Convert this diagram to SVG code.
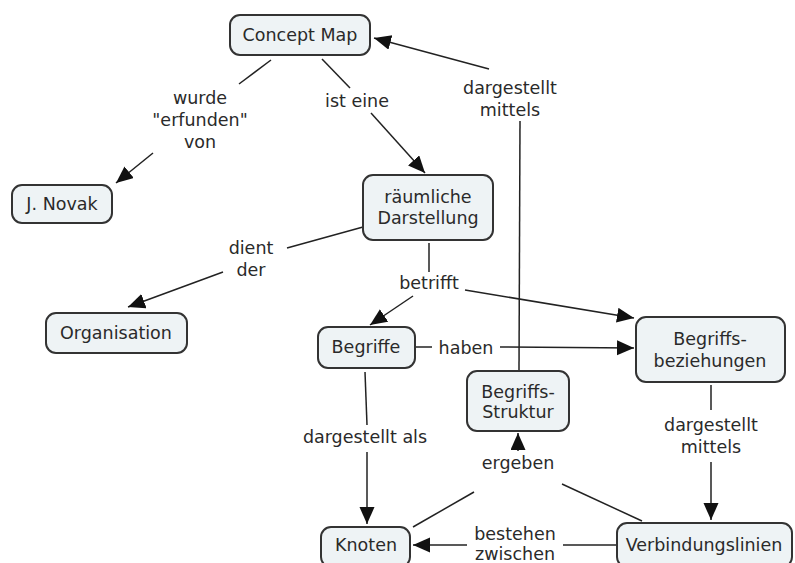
<svg xmlns="http://www.w3.org/2000/svg" width="795" height="563" viewBox="0 0 795 563">
  <defs>
    <marker id="arrow" markerUnits="userSpaceOnUse" markerWidth="20" markerHeight="16" refX="17" refY="7.5" orient="auto">
      <path d="M0,0 L17,7.5 L0,15 Z" fill="#111"/>
    </marker>
    <style>
      .node rect { fill: #eef3f5; stroke: #333; stroke-width: 2; }
      text { font-family: "DejaVu Sans", Verdana, sans-serif; font-size: 17.5px; fill: #2a2a2a; text-anchor: middle; }
      .links path { fill: none; stroke: #222; stroke-width: 1.5; }
      .links path.arr { marker-end: url(#arrow); }
    </style>
  </defs>
  <rect width="795" height="563" fill="#fff"/>

  <!-- connectors and their labels -->
  <g class="links">
    <!-- Concept Map -> J. Novak -->
    <path d="M271,60 L239,84"/>
    <path class="arr" d="M153,153 L116,183"/>
    <text x="200" y="104">wurde</text>
    <text x="200" y="126">"erfunden"</text>
    <text x="200" y="148">von</text>

    <!-- Concept Map -> räumliche Darstellung -->
    <path d="M322,59 L350,88"/>
    <path class="arr" d="M371,113 L425,173"/>
    <text x="357" y="107">ist eine</text>

    <!-- räumliche Darstellung -> Organisation -->
    <path d="M363,227 L287,248"/>
    <path class="arr" d="M223,272 L128,307"/>
    <text x="251" y="254">dient</text>
    <text x="251" y="276">der</text>

    <!-- räumliche Darstellung -> Begriffe / Begriffsbeziehungen -->
    <path d="M429,243 L429,272"/>
    <path class="arr" d="M413,296 L370,325"/>
    <path class="arr" d="M465,290 L634,318"/>
    <text x="429" y="289">betrifft</text>

    <!-- Begriffe -> Begriffsbeziehungen -->
    <path d="M415,347 L432,347"/>
    <path class="arr" d="M500,347 L634,348"/>
    <text x="466" y="354">haben</text>

    <!-- Begriffe -> Knoten -->
    <path d="M365,372 L367,425"/>
    <path class="arr" d="M367,452 L367,524"/>
    <text x="365" y="443">dargestellt als</text>

    <!-- Begriffsbeziehungen -> Verbindungslinien -->
    <path d="M711,385 L711,410"/>
    <path class="arr" d="M711,462 L711,520"/>
    <text x="711" y="431">dargestellt</text>
    <text x="711" y="453">mittels</text>

    <!-- Begriffs-Struktur -> Concept Map -->
    <path d="M519,370 L520,121"/>
    <path class="arr" d="M489,69 L374,38"/>
    <text x="510" y="94">dargestellt</text>
    <text x="510" y="116">mittels</text>

    <!-- Knoten / Verbindungslinien -> Begriffs-Struktur -->
    <path d="M413,527 L474,492"/>
    <path d="M642,521 L562,484"/>
    <path class="arr" d="M518,451 L518,433"/>
    <text x="518" y="469">ergeben</text>

    <!-- Verbindungslinien -> Knoten -->
    <path d="M617,545 L563,545"/>
    <path class="arr" d="M467,545 L413,545"/>
    <text x="515" y="540">bestehen</text>
    <text x="515" y="560">zwischen</text>
  </g>

  <!-- concepts -->
  <g id="concept-map" class="node">
    <rect x="230" y="15" width="140" height="40" rx="10"/>
    <text x="300" y="41">Concept Map</text>
  </g>
  <g id="novak" class="node">
    <rect x="12" y="185" width="100" height="38" rx="10"/>
    <text x="62" y="210">J. Novak</text>
  </g>
  <g id="raeumliche-darstellung" class="node">
    <rect x="363" y="175" width="130" height="65" rx="10"/>
    <text x="428" y="203">räumliche</text>
    <text x="428" y="224">Darstellung</text>
  </g>
  <g id="organisation" class="node">
    <rect x="46" y="313" width="141" height="40" rx="10"/>
    <text x="116" y="339">Organisation</text>
  </g>
  <g id="begriffe" class="node">
    <rect x="318" y="327" width="97" height="41" rx="10"/>
    <text x="366" y="353">Begriffe</text>
  </g>
  <g id="begriffsbeziehungen" class="node">
    <rect x="636" y="317" width="149" height="65" rx="10"/>
    <text x="710" y="345">Begriffs-</text>
    <text x="710" y="367">beziehungen</text>
  </g>
  <g id="begriffs-struktur" class="node">
    <rect x="467" y="371" width="102" height="60" rx="10"/>
    <text x="518" y="398">Begriffs-</text>
    <text x="518" y="418">Struktur</text>
  </g>
  <g id="knoten" class="node">
    <rect x="321" y="527" width="89" height="40" rx="10"/>
    <text x="366" y="551">Knoten</text>
  </g>
  <g id="verbindungslinien" class="node">
    <rect x="617" y="523" width="175" height="44" rx="10"/>
    <text x="704" y="551">Verbindungslinien</text>
  </g>
</svg>
